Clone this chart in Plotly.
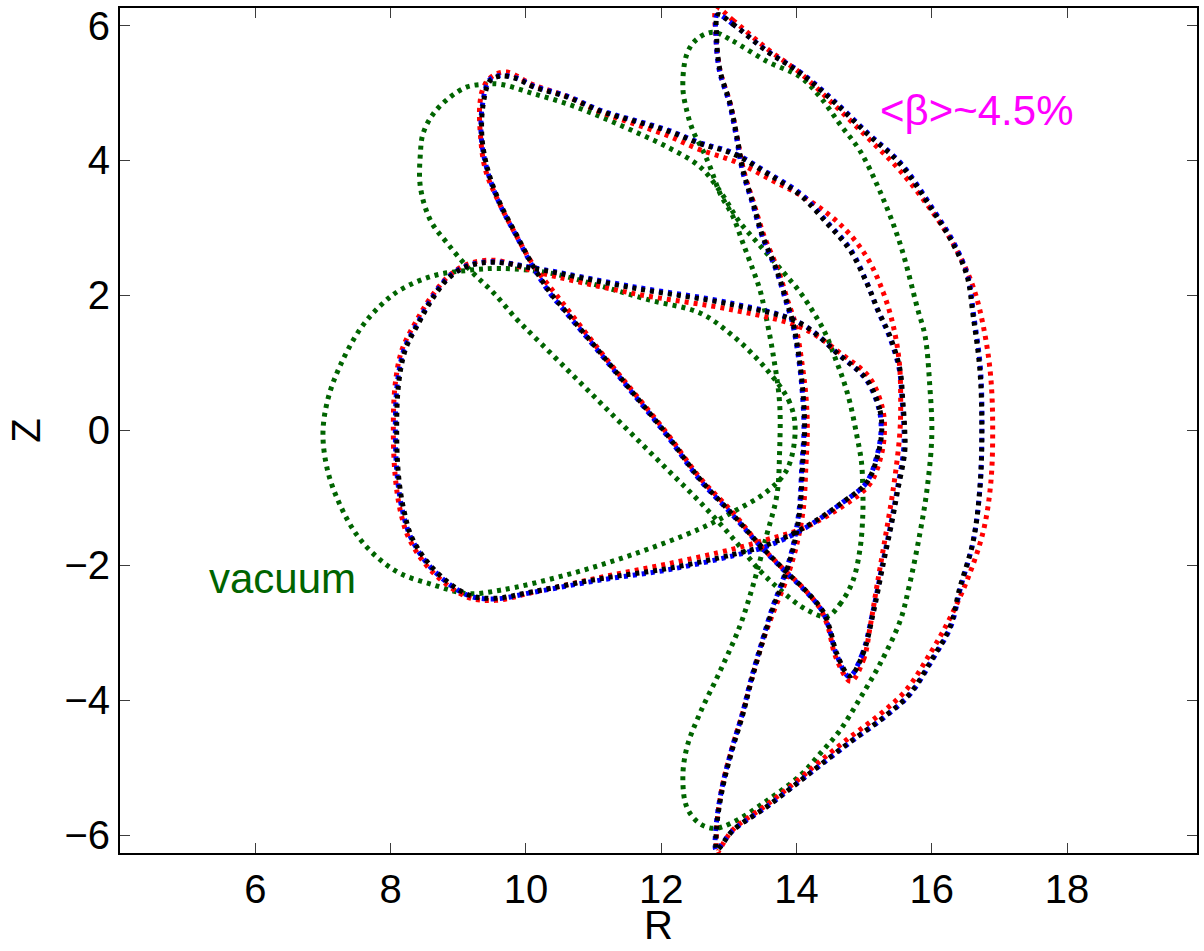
import plotly.graph_objects as go

# ---- flux-surface cross sections (R, Z) at three toroidal angles ----
# vacuum field (green)
vac_bean_R = [13.98, 13.90, 13.56, 13.06, 12.57, 11.83, 11.10, 10.36, 9.62, 9.13, 8.63, 8.14, 7.85, 7.55, 7.25, 7.07, 7.00, 7.07, 7.25, 7.50, 7.80, 8.14, 8.63, 9.13, 9.62, 10.61, 11.58, 12.57, 13.06, 13.56, 13.86, 13.98]
vac_bean_Z = [0.00, 0.41, 0.90, 1.40, 1.74, 1.93, 2.14, 2.33, 2.40, 2.37, 2.29, 2.08, 1.85, 1.50, 0.95, 0.45, -0.05, -0.60, -1.10, -1.55, -1.88, -2.12, -2.29, -2.42, -2.37, -2.14, -1.84, -1.46, -1.21, -0.91, -0.58, 0.00]

vac_twist_R = [14.45, 14.64, 14.83, 14.94, 14.98, 14.98, 14.96, 14.89, 14.79, 14.69, 14.58, 14.42, 14.25, 14.05, 13.80, 13.45, 13.15, 12.90, 12.57, 12.09, 11.58, 11.10, 10.61, 10.11, 9.62, 9.37, 9.13, 8.88, 8.63, 8.48, 8.44, 8.44, 8.59, 8.84, 9.18, 9.52, 9.87, 10.11, 10.61, 11.10, 11.58, 12.09, 12.57, 13.06, 13.46, 13.80, 14.15, 14.45]
vac_twist_Z = [-2.76, -2.58, -2.24, -1.75, -1.25, -0.87, -0.47, -0.07, 0.41, 0.75, 1.05, 1.45, 1.75, 2.05, 2.35, 2.75, 3.10, 3.50, 3.91, 4.20, 4.44, 4.65, 4.84, 4.99, 5.13, 5.13, 5.09, 4.94, 4.69, 4.40, 4.10, 3.61, 3.11, 2.77, 2.37, 2.04, 1.64, 1.40, 0.90, 0.41, -0.07, -0.58, -1.06, -1.60, -2.08, -2.40, -2.66, -2.76]

vac_cres_R = [12.77, 13.06, 13.56, 14.05, 14.35, 14.64, 14.94, 15.23, 15.53, 15.79, 15.90, 15.97, 16.00, 15.93, 15.82, 15.67, 15.53, 15.23, 14.94, 14.64, 14.35, 14.05, 13.56, 13.06, 12.79, 12.57, 12.38, 12.32, 12.38, 12.57, 12.87, 13.16, 13.36, 13.56, 13.71, 13.75, 13.75, 13.65, 13.53, 13.46, 13.36, 13.21, 13.06, 12.87, 12.72, 12.62, 12.47, 12.38, 12.32, 12.38, 12.53, 12.77]
vac_cres_Z = [5.90, 5.77, 5.47, 5.24, 4.94, 4.54, 4.14, 3.55, 2.77, 1.80, 1.40, 0.66, -0.07, -0.87, -1.55, -2.29, -2.83, -3.47, -3.97, -4.45, -4.79, -5.12, -5.49, -5.81, -5.90, -5.83, -5.59, -5.15, -4.70, -4.20, -3.57, -2.91, -2.29, -1.55, -0.96, -0.32, 0.41, 1.15, 1.78, 2.08, 2.37, 2.77, 3.17, 3.51, 3.91, 4.14, 4.44, 4.73, 5.09, 5.58, 5.80, 5.90]

# finite-beta equilibrium, red
red_bean_R = [15.30, 15.27, 15.08, 14.68, 14.08, 13.08, 11.58, 10.11, 9.55, 9.13, 8.85, 8.58, 8.38, 8.17, 8.07, 8.04, 8.07, 8.15, 8.28, 8.60, 9.13, 9.55, 10.11, 11.10, 12.09, 13.06, 13.56, 14.10, 14.69, 15.08, 15.25, 15.30]
red_bean_Z = [0.00, 0.33, 0.78, 1.12, 1.52, 1.78, 2.03, 2.36, 2.52, 2.46, 2.28, 1.95, 1.62, 1.20, 0.70, 0.00, -0.70, -1.22, -1.62, -2.08, -2.47, -2.52, -2.40, -2.18, -1.98, -1.76, -1.62, -1.45, -1.12, -0.80, -0.38, 0.00]

red_twist_R = [14.80, 14.99, 15.09, 15.19, 15.31, 15.41, 15.48, 15.53, 15.54, 15.52, 15.43, 15.28, 15.05, 14.70, 14.20, 13.65, 13.10, 12.57, 12.09, 11.58, 11.10, 10.61, 10.11, 9.72, 9.52, 9.38, 9.32, 9.33, 9.40, 9.60, 9.85, 10.11, 10.58, 11.10, 11.58, 12.09, 12.57, 13.06, 13.44, 13.78, 14.13, 14.36, 14.47, 14.58, 14.80]
red_twist_Z = [-3.72, -3.40, -2.90, -2.30, -1.60, -1.00, -0.50, 0.00, 0.45, 1.00, 1.55, 2.05, 2.55, 3.00, 3.40, 3.70, 3.98, 4.16, 4.37, 4.55, 4.72, 4.95, 5.12, 5.31, 5.26, 5.10, 4.84, 4.35, 3.87, 3.38, 2.90, 2.45, 1.84, 1.17, 0.58, -0.05, -0.70, -1.22, -1.68, -2.03, -2.37, -2.66, -2.93, -3.36, -3.72]

red_cres_R = [12.82, 13.06, 13.56, 14.05, 14.54, 15.04, 15.53, 16.05, 16.38, 16.62, 16.77, 16.87, 16.90, 16.87, 16.76, 16.53, 16.26, 15.98, 15.62, 15.22, 14.75, 14.33, 14.05, 13.56, 13.06, 12.87, 12.83, 12.82, 12.90, 13.05, 13.20, 13.33, 13.50, 13.68, 13.84, 13.99, 14.10, 14.14, 14.16, 14.14, 14.08, 13.98, 13.88, 13.73, 13.52, 13.37, 13.22, 13.12, 13.02, 12.87, 12.81, 12.82]
red_cres_Z = [6.26, 6.08, 5.66, 5.30, 4.84, 4.35, 3.85, 3.18, 2.65, 2.10, 1.50, 0.80, 0.00, -0.80, -1.50, -2.20, -2.80, -3.30, -3.85, -4.22, -4.58, -4.92, -5.16, -5.55, -5.92, -6.20, -6.26, -5.88, -5.29, -4.70, -4.20, -3.72, -3.13, -2.64, -2.24, -1.75, -1.17, -0.50, 0.00, 0.50, 1.00, 1.59, 1.89, 2.37, 2.88, 3.36, 3.85, 4.35, 4.84, 5.33, 5.83, 6.26]

# finite-beta equilibrium, blue
blue_bean_R = [15.25, 15.22, 15.03, 14.63, 14.04, 13.06, 11.58, 10.11, 9.52, 9.13, 8.84, 8.59, 8.41, 8.20, 8.10, 8.07, 8.10, 8.18, 8.31, 8.62, 9.13, 9.52, 10.11, 11.10, 12.09, 13.06, 13.56, 14.09, 14.68, 15.03, 15.19, 15.25]
blue_bean_Z = [0.00, 0.31, 0.75, 1.12, 1.60, 1.88, 2.13, 2.41, 2.50, 2.44, 2.26, 1.93, 1.61, 1.20, 0.70, 0.00, -0.70, -1.21, -1.61, -2.06, -2.44, -2.50, -2.40, -2.22, -2.07, -1.86, -1.72, -1.47, -1.07, -0.78, -0.37, 0.00]

blue_twist_R = [14.78, 14.97, 15.12, 15.27, 15.40, 15.49, 15.58, 15.59, 15.56, 15.52, 15.37, 15.20, 15.04, 14.80, 14.46, 14.07, 13.57, 13.07, 12.58, 12.10, 11.59, 11.11, 10.62, 10.12, 9.87, 9.62, 9.46, 9.36, 9.34, 9.43, 9.61, 9.86, 10.10, 10.35, 10.59, 11.09, 11.57, 12.08, 12.56, 13.05, 13.45, 13.79, 14.14, 14.38, 14.48, 14.59, 14.78]
blue_twist_Z = [-3.65, -3.32, -2.73, -1.99, -1.36, -0.87, -0.32, 0.00, 0.46, 0.90, 1.40, 1.78, 2.19, 2.68, 3.08, 3.50, 3.82, 4.11, 4.26, 4.45, 4.60, 4.74, 4.95, 5.10, 5.22, 5.26, 5.19, 4.84, 4.35, 3.85, 3.36, 2.88, 2.43, 2.04, 1.75, 1.15, 0.56, -0.07, -0.72, -1.25, -1.70, -2.05, -2.39, -2.68, -2.93, -3.32, -3.65]

blue_cres_R = [12.83, 13.06, 13.57, 14.07, 14.56, 15.06, 15.55, 16.03, 16.33, 16.53, 16.62, 16.72, 16.74, 16.71, 16.61, 16.42, 16.28, 16.02, 15.68, 15.29, 14.80, 14.36, 14.05, 13.56, 13.06, 12.86, 12.81, 12.81, 12.90, 13.05, 13.20, 13.32, 13.49, 13.64, 13.79, 13.94, 14.04, 14.08, 14.11, 14.09, 14.04, 13.94, 13.85, 13.70, 13.49, 13.35, 13.20, 13.11, 13.01, 12.86, 12.81, 12.83]
blue_cres_Z = [6.16, 6.02, 5.62, 5.30, 4.88, 4.40, 3.95, 3.26, 2.77, 2.29, 1.70, 0.90, 0.00, -0.87, -1.65, -2.35, -2.91, -3.38, -3.91, -4.26, -4.62, -4.96, -5.20, -5.58, -5.93, -6.18, -6.22, -5.88, -5.29, -4.70, -4.20, -3.72, -3.13, -2.64, -2.24, -1.75, -1.17, -0.50, 0.00, 0.50, 1.00, 1.59, 1.89, 2.37, 2.88, 3.36, 3.85, 4.35, 4.84, 5.33, 5.83, 6.16]

# finite-beta equilibrium, black
blk_bean_R = [15.26, 15.23, 15.04, 14.64, 14.05, 13.06, 11.58, 10.11, 9.52, 9.13, 8.85, 8.60, 8.42, 8.22, 8.12, 8.09, 8.12, 8.20, 8.32, 8.63, 9.13, 9.52, 10.11, 11.10, 12.09, 13.06, 13.56, 14.10, 14.69, 15.04, 15.20, 15.26]
blk_bean_Z = [0.00, 0.31, 0.75, 1.11, 1.59, 1.86, 2.11, 2.40, 2.49, 2.43, 2.25, 1.92, 1.60, 1.20, 0.70, 0.00, -0.70, -1.20, -1.60, -2.05, -2.43, -2.49, -2.39, -2.20, -2.05, -1.84, -1.70, -1.45, -1.06, -0.77, -0.37, 0.00]

blk_twist_R = [14.79, 14.98, 15.13, 15.28, 15.41, 15.50, 15.60, 15.60, 15.57, 15.53, 15.38, 15.21, 15.04, 14.79, 14.45, 14.05, 13.56, 13.06, 12.57, 12.09, 11.58, 11.10, 10.61, 10.11, 9.87, 9.62, 9.47, 9.37, 9.35, 9.44, 9.62, 9.87, 10.11, 10.36, 10.60, 11.10, 11.58, 12.09, 12.57, 13.06, 13.46, 13.80, 14.15, 14.39, 14.49, 14.60, 14.79]
blk_twist_Z = [-3.64, -3.32, -2.73, -1.99, -1.36, -0.87, -0.32, 0.00, 0.46, 0.90, 1.40, 1.77, 2.18, 2.67, 3.07, 3.49, 3.81, 4.10, 4.25, 4.44, 4.59, 4.73, 4.94, 5.09, 5.21, 5.25, 5.18, 4.84, 4.35, 3.85, 3.36, 2.88, 2.43, 2.04, 1.75, 1.15, 0.56, -0.07, -0.72, -1.25, -1.70, -2.05, -2.39, -2.68, -2.93, -3.32, -3.64]

blk_cres_R = [12.84, 13.06, 13.56, 14.05, 14.54, 15.04, 15.53, 16.01, 16.31, 16.52, 16.61, 16.71, 16.74, 16.71, 16.61, 16.41, 16.27, 16.01, 15.67, 15.28, 14.79, 14.35, 14.05, 13.56, 13.06, 12.87, 12.82, 12.82, 12.91, 13.06, 13.21, 13.33, 13.50, 13.65, 13.80, 13.95, 14.05, 14.09, 14.12, 14.10, 14.05, 13.95, 13.86, 13.71, 13.50, 13.36, 13.21, 13.12, 13.02, 12.87, 12.82, 12.84]
blk_cres_Z = [6.16, 6.02, 5.62, 5.30, 4.88, 4.40, 3.95, 3.26, 2.77, 2.29, 1.70, 0.90, 0.00, -0.87, -1.65, -2.35, -2.91, -3.38, -3.91, -4.26, -4.62, -4.96, -5.20, -5.58, -5.93, -6.18, -6.22, -5.88, -5.29, -4.70, -4.20, -3.72, -3.13, -2.64, -2.24, -1.75, -1.17, -0.50, 0.00, 0.50, 1.00, 1.59, 1.89, 2.37, 2.88, 3.36, 3.85, 4.35, 4.84, 5.33, 5.83, 6.16]

x_ticks = [6, 8, 10, 12, 14, 16, 18]
y_ticks = [-6, -4, -2, 0, 2, 4, 6]

GREEN = "rgb(0,100,0)"
series = [
    (GREEN, [(vac_bean_R, vac_bean_Z), (vac_twist_R, vac_twist_Z), (vac_cres_R, vac_cres_Z)]),
    ("rgb(255,0,0)", [(red_bean_R, red_bean_Z), (red_twist_R, red_twist_Z), (red_cres_R, red_cres_Z)]),
    ("rgb(0,0,255)", [(blue_bean_R, blue_bean_Z), (blue_twist_R, blue_twist_Z), (blue_cres_R, blue_cres_Z)]),
    ("rgb(0,0,0)", [(blk_bean_R, blk_bean_Z), (blk_twist_R, blk_twist_Z), (blk_cres_R, blk_cres_Z)]),
]

fig = go.Figure()
for color, curves in series:
    for R, Z in curves:
        fig.add_trace(go.Scatter(
            x=R, y=Z, mode="lines",
            line=dict(color=color, width=5, dash="4px,5px", shape="spline", smoothing=1.0),
            hoverinfo="skip", showlegend=False,
        ))

FONT = "Liberation Sans, Arial, sans-serif"

fig.add_annotation(x=15.2, y=4.74, xref="x", yref="y", text="&lt;β&gt;~4.5%",
                   showarrow=False, xanchor="left", yanchor="middle",
                   font=dict(family=FONT, size=42, color="rgb(255,0,255)"))
fig.add_annotation(x=5.29, y=-2.2, xref="x", yref="y", text="vacuum",
                   showarrow=False, xanchor="left", yanchor="middle",
                   font=dict(family=FONT, size=42, color=GREEN))
# axis titles
fig.add_annotation(x=0.5, y=-0.1135, xref="paper", yref="paper", text="R",
                   showarrow=False, xanchor="center", yanchor="bottom",
                   font=dict(family=FONT, size=40, color="black"))
fig.add_annotation(x=-0.088, y=0.5, xref="paper", yref="paper", text="Z",
                   showarrow=False, xanchor="center", yanchor="middle", textangle=-90,
                   font=dict(family=FONT, size=40, color="black"))

axis_common = dict(
    showline=True, linecolor="black", linewidth=2, mirror="ticks",
    ticks="inside", ticklen=10, tickwidth=1, tickcolor="rgb(60,60,60)",
    showgrid=False, zeroline=False,
    tickfont=dict(family=FONT, size=40, color="black"),
)
fig.update_xaxes(range=[4.0, 19.92], tickvals=x_ticks, **axis_common)
fig.update_yaxes(range=[-6.265, 6.26], tickvals=y_ticks, **axis_common)

fig.update_layout(
    width=1204, height=951,
    margin=dict(l=120, r=7, t=4, b=98),
    paper_bgcolor="white", plot_bgcolor="white",
)

fig.write_html("out.html")
